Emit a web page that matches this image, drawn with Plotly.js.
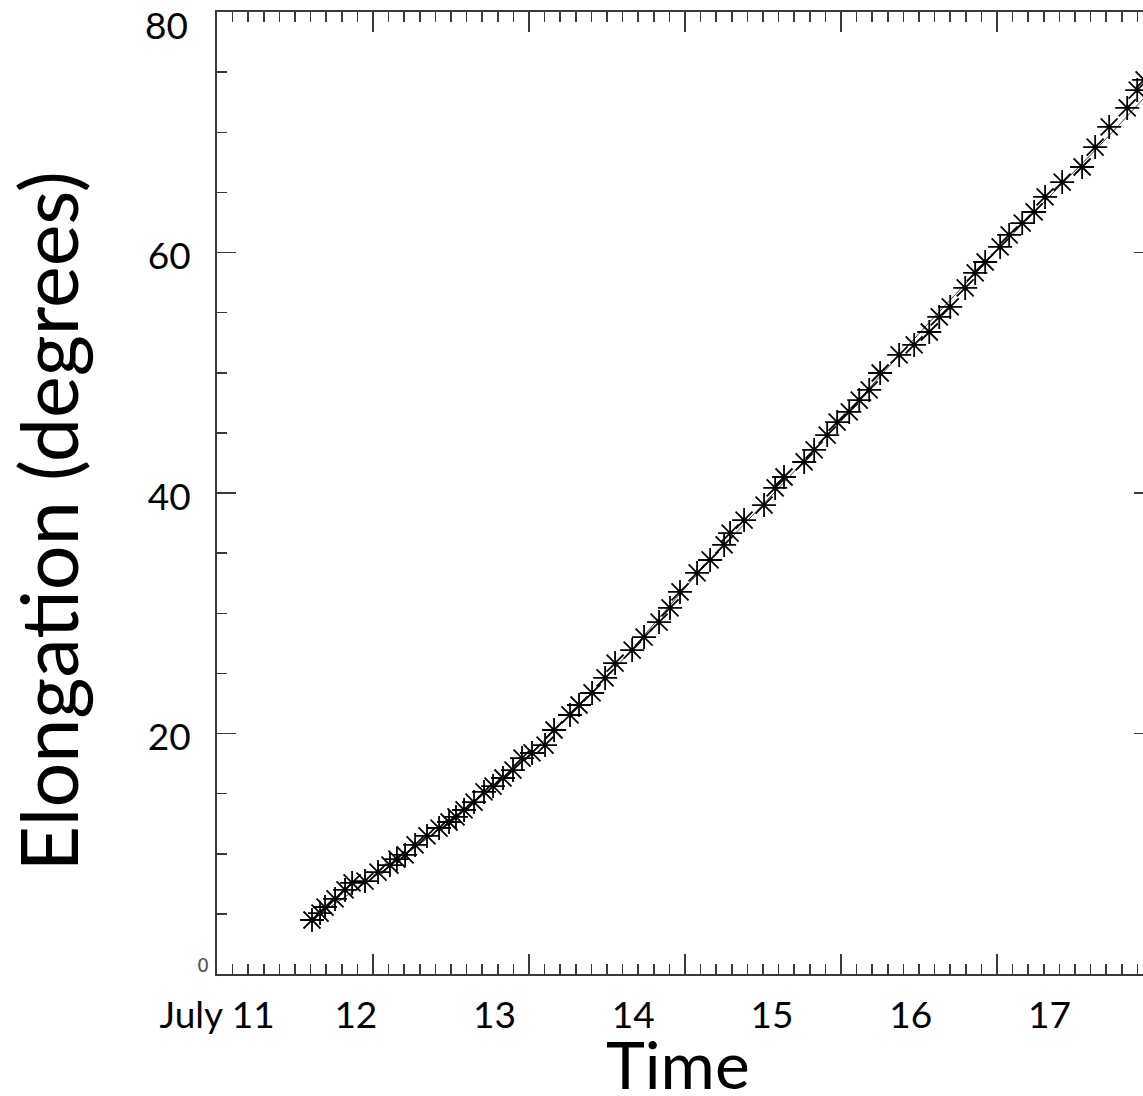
<!DOCTYPE html>
<html>
<head>
<meta charset="utf-8">
<script src="https://cdn.plot.ly/plotly-3.0.1.min.js"></script>
<style>
  html, body { margin: 0; padding: 0; background: #fff; overflow: hidden; }
  #chart { width: 1160px; height: 1096px; }
</style>
</head>
<body>
<div id="chart"></div>
<script>
// Time in days of July, elongation in degrees
const obsDay = [11.684, 11.742, 11.778, 11.850, 11.922, 11.973, 12.066, 12.160, 12.246, 12.296,
  12.355, 12.427, 12.513, 12.600, 12.672, 12.722, 12.780, 12.852, 12.924, 12.989,
  13.061, 13.133, 13.198, 13.270, 13.364, 13.429, 13.544, 13.609, 13.703, 13.797,
  13.869, 13.992, 14.078, 14.186, 14.265, 14.337, 14.460, 14.554, 14.655, 14.698,
  14.799, 14.943, 15.023, 15.087, 15.232, 15.304, 15.398, 15.470, 15.557, 15.629,
  15.701, 15.780, 15.917, 16.025, 16.134, 16.206, 16.285, 16.393, 16.465, 16.537,
  16.645, 16.710, 16.804, 16.890, 16.969, 17.092, 17.236, 17.330, 17.431, 17.561,
  17.633, 17.683];
const obsElong = [4.49, 5.07, 5.57, 6.24, 6.99, 7.57, 7.73, 8.48, 9.06, 9.56,
  9.90, 10.73, 11.48, 12.14, 12.64, 13.06, 13.64, 14.30, 15.14, 15.63,
  16.30, 16.96, 17.96, 18.38, 19.04, 20.29, 21.54, 22.37, 23.37, 24.62,
  25.86, 26.94, 28.02, 29.27, 30.44, 31.77, 33.35, 34.43, 35.68, 36.67,
  37.75, 39.00, 40.42, 41.33, 42.58, 43.58, 44.82, 45.90, 46.74, 47.73,
  48.57, 49.98, 51.48, 52.31, 53.39, 54.64, 55.47, 57.05, 58.30, 59.21,
  60.46, 61.46, 62.45, 63.37, 64.62, 65.86, 67.11, 68.77, 70.44, 72.02,
  73.51, 74.35];

// Smooth fitted track
const fitDay = [11.684, 12.333, 13.054, 13.775, 14.496, 15.217, 15.938, 16.659, 17.380, 17.762];
const fitElong = [4.57, 9.73, 16.22, 24.28, 33.68, 42.49, 51.73, 60.62, 69.11, 73.85];

// Date labels along the time axis
const dayTicks = [11, 12, 13, 14, 15, 16, 17];
const dayLabels = ['July 11', '12', '13', '14', '15', '16', '17'];

// Elongation axis labels (the two end values are set as separate notes)
const elongTicks = [0, 20, 40, 60, 80];
const elongLabels = ['', '20', '40', '60', ''];
const elongTopLabel = '80';
const elongBottomLabel = '0';

const axisColor = '#3a3a3a';
const textFamily = 'Lato, "Open Sans", sans-serif';
const labelFont = { family: textFamily, size: 37, color: '#000' };

const traces = [
  {
    x: fitDay, y: fitElong, type: 'scatter', mode: 'lines',
    line: { color: '#444', width: 1, shape: 'spline' },
    hoverinfo: 'skip', showlegend: false
  },
  {
    x: obsDay, y: obsElong, type: 'scatter', mode: 'markers',
    marker: { symbol: 'asterisk-open', size: 20, color: '#000', line: { color: '#000', width: 1.8 } },
    showlegend: false
  },
  {
    // carries the tick-mark scale drawn along the time axis
    x: [], y: [], xaxis: 'x2', yaxis: 'y', type: 'scatter', mode: 'markers',
    hoverinfo: 'skip', showlegend: false
  }
];

const layout = {
  width: 1160, height: 1096,
  margin: { l: 217, r: 7, t: 12, b: 122, pad: 0 },
  paper_bgcolor: '#fff', plot_bgcolor: '#fff',
  showlegend: false,
  xaxis: {
    range: [10.999, 17.747],
    tickmode: 'array', tickvals: dayTicks, ticktext: dayLabels,
    ticks: '', showgrid: false, zeroline: false,
    showline: true, linecolor: axisColor, linewidth: 2, mirror: true,
    tickfont: labelFont, ticklabelstandoff: 8, ticklabeloverflow: 'allow'
  },
  xaxis2: {
    overlaying: 'x', anchor: 'y', side: 'bottom',
    range: [0, 60], tickmode: 'linear', tick0: 0, dtick: 10,
    ticks: 'inside', ticklen: 20, tickwidth: 1.5, tickcolor: axisColor,
    minor: { dtick: 1, tick0: 0, ticks: 'inside', ticklen: 10, tickwidth: 1.5, tickcolor: axisColor, showgrid: false },
    mirror: 'ticks', showline: false, showgrid: false, zeroline: false,
    showticklabels: false
  },
  yaxis: {
    range: [0, 80],
    tickmode: 'array', tickvals: elongTicks, ticktext: elongLabels,
    ticks: 'inside', ticklen: 19, tickwidth: 1.5, tickcolor: axisColor,
    minor: { dtick: 5, tick0: 0, ticks: 'inside', ticklen: 10, tickwidth: 1.5, tickcolor: axisColor, showgrid: false },
    showline: true, linecolor: axisColor, linewidth: 2, mirror: 'ticks',
    showgrid: false, zeroline: false,
    tickfont: labelFont, ticklabelstandoff: 17, ticklabelshift: 4, ticklabeloverflow: 'allow'
  },
  annotations: [
    {
      text: elongBottomLabel, xref: 'paper', yref: 'y', x: 0, y: elongTicks[0],
      xanchor: 'right', yanchor: 'bottom', xshift: -6, yshift: -4,
      showarrow: false,
      font: { family: '"DejaVu Sans", sans-serif', size: 19, color: '#555' }
    },
    {
      text: elongTopLabel, xref: 'paper', yref: 'y', x: 0, y: elongTicks[elongTicks.length - 1],
      xanchor: 'right', yanchor: 'middle', xshift: -27, yshift: -12,
      showarrow: false,
      font: labelFont
    },
    {
      // time axis title
      text: 'Time', xref: 'paper', yref: 'paper',
      x: 0.493, y: 0, xanchor: 'center', yanchor: 'middle', yshift: -89,
      showarrow: false,
      font: { family: textFamily, size: 66, color: '#000' }
    },
    {
      text: 'Elongation (degrees)', xref: 'paper', yref: 'paper',
      x: -0.181, y: 0.47, xanchor: 'center', yanchor: 'middle',
      textangle: -90, showarrow: false,
      font: { family: textFamily, size: 79, color: '#000' }
    }
  ]
};

Plotly.newPlot('chart', traces, layout, { displayModeBar: false, staticPlot: true });
</script>
</body>
</html>
